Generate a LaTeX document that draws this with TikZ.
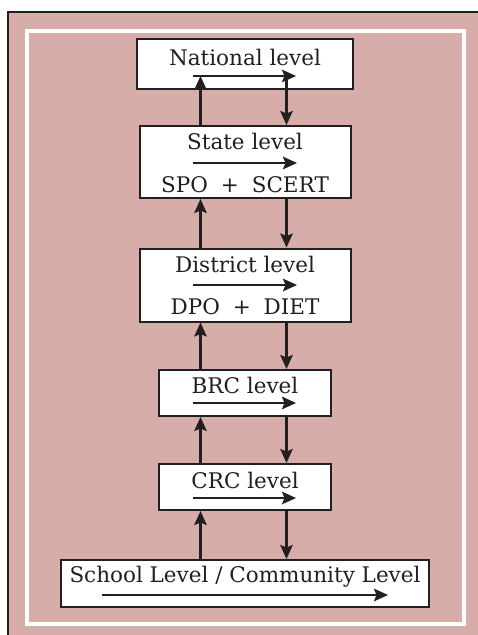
\documentclass[tikz,border=0pt]{standalone}
\usepackage{fontspec}
\setmainfont{DejaVu Serif}
\usetikzlibrary{arrows.meta}
\definecolor{bgpink}{RGB}{215,173,170}
\definecolor{ink}{RGB}{35,31,32}
\begin{document}
\begin{tikzpicture}[x=1pt,y=-1pt,
  box/.style={draw=ink,line width=2pt,fill=white,rectangle,inner sep=0pt},
  lbl/.style={anchor=base,inner sep=0pt,text=ink,font=\fontsize{21.5}{25}\selectfont},
  arr/.style={draw=ink,line width=2.2pt,-{Stealth[length=14pt,width=12.5pt,inset=2.5pt]}}]
\useasboundingbox (0,0) rectangle (478,635);
\fill[white] (0,0) rectangle (478,635);
\fill[bgpink] (8,12) rectangle (478,635);
\draw[ink,line width=2.5pt] (478,12) -- (8,12) -- (8,635);
\draw[white,line width=4pt] (26.5,31) rectangle (463.5,623.5);
% boxes
\node[box,minimum width=216pt,minimum height=50pt] (nat) at (245,64) {};
\node[box,minimum width=211pt,minimum height=72pt] (state) at (245.5,162) {};
\node[box,minimum width=211pt,minimum height=73pt] (dist) at (245.5,285) {};
\node[box,minimum width=172pt,minimum height=46pt] (brc) at (245,393) {};
\node[box,minimum width=172pt,minimum height=46pt] (crc) at (245,487) {};
\node[box,minimum width=368pt,minimum height=47pt] (school) at (245,583.5) {};
% texts
\node[lbl] (natT) at (245,65) {National level};
\node[lbl] (stateT) at (245,149) {State level};
\node[lbl] (stateB) at (245,192) {SPO\hspace{0.6em}+\hspace{0.6em}SCERT};
\node[lbl] (distT) at (245,272) {District level};
\node[lbl] (distB) at (245,314) {DPO\hspace{0.6em}+\hspace{0.6em}DIET};
\node[lbl] (brcT) at (245,393) {BRC level};
\node[lbl] (crcT) at (245,488) {CRC level};
\node[lbl] (schoolT) at (245,582) {School Level / Community Level};
% inner arrows
\coordinate (natA) at (193,76); \coordinate (natB) at (296,76);
\coordinate (stA) at (193,163); \coordinate (stB) at (297,163);
\coordinate (diA) at (193,285); \coordinate (diB) at (297,285);
\coordinate (brA) at (193,403); \coordinate (brB) at (296,403);
\coordinate (crA) at (193,498); \coordinate (crB) at (296,498);
\coordinate (scA) at (102,595); \coordinate (scB) at (388,595);
\draw[arr] (natA) -- (natB);
\draw[arr] (stA) -- (stB);
\draw[arr] (diA) -- (diB);
\draw[arr] (brA) -- (brB);
\draw[arr] (crA) -- (crB);
\draw[arr] (scA) -- (scB);
% vertical connectors
\coordinate (up) at (200.5,0);
\coordinate (dn) at (286.5,0);
\coordinate (natUp) at (200.5,76);
\coordinate (natDn) at (286.5,76);
\draw[arr] (state.north -| up) -- (natUp);
\draw[arr] (natDn) -- (state.north -| dn);
\draw[arr] (dist.north -| up) -- (state.south -| up);
\draw[arr] (state.south -| dn) -- (dist.north -| dn);
\draw[arr] (brc.north -| up) -- (dist.south -| up);
\draw[arr] (dist.south -| dn) -- (brc.north -| dn);
\draw[arr] (crc.north -| up) -- (brc.south -| up);
\draw[arr] (brc.south -| dn) -- (crc.north -| dn);
\draw[arr] (school.north -| up) -- (crc.south -| up);
\draw[arr] (crc.south -| dn) -- (school.north -| dn);
\end{tikzpicture}
\end{document}
